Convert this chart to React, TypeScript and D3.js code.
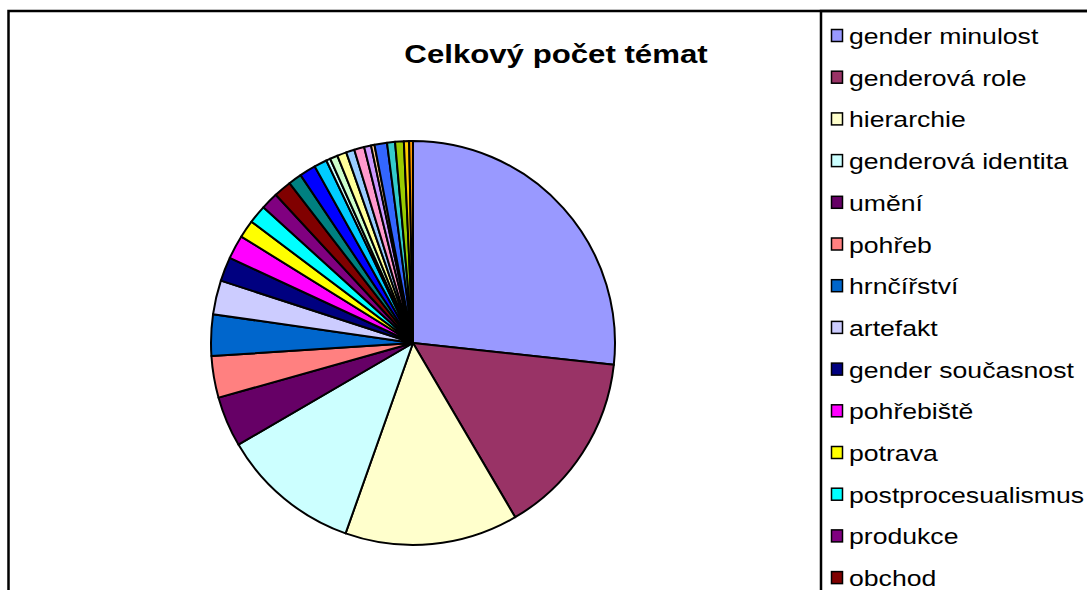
import React from 'react';
import * as d3 from 'd3';

// topics and their share of the pie
const topics = [
  'gender minulost', 'genderová role', 'hierarchie', 'genderová identita', 'umění',
  'pohřeb', 'hrnčířství', 'artefakt', 'gender současnost', 'pohřebiště',
  'potrava', 'postprocesualismus', 'produkce', 'obchod', 'status',
  'sídliště', 'symbolika', 'rituál', 'příbuzenství', 'etnicita',
  'prostor', 'pracovní činnost', 'moc', 'tělo', 'sexualita',
  'dítě', 'věk', 'náboženství', 'ideologie',
];
const counts = [
  96.2, 53.4, 49.9, 40.3, 14.5,
  12.0, 11.9, 9.8, 6.9, 6.9,
  5.1, 5.3, 5.0, 5.1, 3.9,
  4.7, 3.7, 1.2, 2.2, 2.7,
  2.4, 2.9, 2.0, 1.0, 3.6,
  2.3, 2.5, 1.5, 1.1,
];
const colors = [
  '#9999FF', '#993366', '#FFFFCC', '#CCFFFF', '#660066',
  '#FF8080', '#0066CC', '#CCCCFF', '#000080', '#FF00FF',
  '#FFFF00', '#00FFFF', '#800080', '#800000', '#008080',
  '#0000FF', '#00CCFF', '#CCFFFF', '#CCFFCC', '#FFFF99',
  '#99CCFF', '#FF99CC', '#CC99FF', '#FFCC99', '#3366FF',
  '#33CCCC', '#99CC00', '#FFCC00', '#FF9900',
];
const title = 'Celkový počet témat';

const W = 1087;
const H = 590;

const App = () => {
  const data = topics.map((name, i) => ({ name, value: counts[i], color: colors[i] }));

  const cx = 413;
  const cy = 343;
  const r = 202;

  const pie = d3.pie<any>().sort(null).value(d => d.value);
  const arc = d3.arc<any>().innerRadius(0).outerRadius(r);
  const slices = pie(data);

  // legend layout; rows below the page edge are not visible, so skip them
  const legendX = 821;
  const rowY = d3.scaleLinear().domain([0, 1]).range([44, 85.7]);
  const legendRows = data.filter((d, i) => rowY(i) - 16 < H);

  const font = '"Liberation Sans", Arial, sans-serif';

  return (
    <svg width={W} height={H} style={{ position: 'absolute', left: 0, top: 0, background: '#fff' }}>
      {/* chart frame */}
      <rect x={8.5} y={11} width={W + 20} height={H + 20} fill="#fff" stroke="#000" strokeWidth={2.5} />

      <text
        transform={`translate(556,63) scale(1.2,1)`}
        textAnchor="middle"
        fontFamily={font}
        fontWeight="bold"
        fontSize={26}
        fill="#000"
      >
        {title}
      </text>

      <g transform={`translate(${cx},${cy})`}>
        {slices.map((s, i) => (
          <path key={i} d={arc(s) as string} fill={s.data.color} stroke="#000" strokeWidth={2} strokeLinejoin="round" />
        ))}
      </g>

      {/* legend box */}
      <rect x={legendX} y={11} width={W} height={H + 20} fill="none" stroke="#000" strokeWidth={2.5} />
      {legendRows.map((d, i) => {
        const y = rowY(i);
        return (
          <g key={d.name}>
            <rect x={831.5} y={y - 14.5} width={11} height={12} fill={d.color} stroke="#000" strokeWidth={1.5} />
            <text
              transform={`translate(849,${y}) scale(1.21,1)`}
              fontFamily={font}
              fontSize={22}
              fill="#000"
            >
              {d.name}
            </text>
          </g>
        );
      })}
    </svg>
  );
};

export default App;
